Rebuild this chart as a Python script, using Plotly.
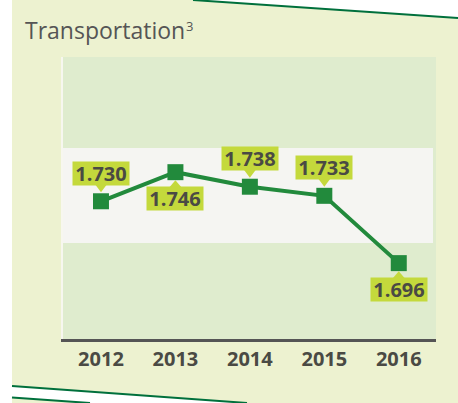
import plotly.graph_objects as go

# ---- data ----
years = [2012, 2013, 2014, 2015, 2016]
values = [1.730, 1.746, 1.738, 1.733, 1.696]
value_labels = ["1.730", "1.746", "1.738", "1.733", "1.696"]
label_side = ["above", "below", "above", "above", "below"]
title_main = "Transportation"
title_sup = "3"

# ---- layout geometry ----
W, H = 458, 403
L, R, T, B = 63, 22, 57, 64
PW, PH = W - L - R, H - T - B


def px(x):
    return (x - L) / PW


def py(y):
    return (H - B - y) / PH


PAGE = "#EDF2D0"
BAND = "#DFECCE"
MID = "#F5F5F2"
GREEN = "#228A3C"
LIME = "#C4D93C"
DARK = "#00703C"
TXT = "#4A4A44"

fig = go.Figure()
fig.add_trace(go.Scatter(
    x=years, y=values, mode="lines+markers",
    line=dict(color=GREEN, width=4),
    marker=dict(symbol="square", size=16, color=GREEN),
    hoverinfo="skip", showlegend=False,
))

shapes = []
# page background polygon (white outside the decorative edges)
shapes.append(dict(
    type="path", xref="paper", yref="paper", layer="below",
    path=(f"M {px(12)},{py(0)} L {px(193)},{py(0)} L {px(458)},{py(18)} "
          f"L {px(458)},{py(403)} L {px(247)},{py(403)} L {px(12)},{py(386)} Z"),
    fillcolor=PAGE, line=dict(width=0),
))
shapes.append(dict(
    type="path", xref="paper", yref="paper", layer="below",
    path=f"M {px(12)},{py(397.5)} L {px(90)},{py(403)} L {px(12)},{py(403)} Z",
    fillcolor=PAGE, line=dict(width=0),
))
# decorative lines
for (x0, y0, x1, y1) in [(193, 0, 458, 18), (12, 386, 247, 403), (12, 397.5, 90, 403)]:
    shapes.append(dict(type="line", xref="paper", yref="paper",
                       x0=px(x0), y0=py(y0), x1=px(x1), y1=py(y1),
                       line=dict(color=DARK, width=2), layer="above"))
# bands
shapes.append(dict(type="rect", xref="paper", yref="paper", layer="below",
                   x0=0, x1=1, y0=0, y1=1, fillcolor=BAND, line=dict(width=0)))
shapes.append(dict(type="rect", xref="paper", yref="paper", layer="below",
                   x0=0, x1=px(433), y0=py(243), y1=py(148), fillcolor=MID,
                   line=dict(width=0)))

annotations = []
for yr, v, lab, side in zip(years, values, value_labels, label_side):
    up = side == "above"
    annotations.append(dict(
        x=yr, y=v, xref="x", yref="y", text=f"<b>{lab}</b>", showarrow=False,
        yshift=28 if up else -26, bgcolor=LIME, width=54, height=21, borderpad=1,
        font=dict(family="Open Sans", size=20, color=TXT),
    ))
    if up:
        path = "M -6,17 L 6,17 L 0,9 Z"
    else:
        path = "M -6,-15 L 6,-15 L 0,-8 Z"
    shapes.append(dict(type="path", xref="x", yref="y",
                       xsizemode="pixel", ysizemode="pixel",
                       xanchor=yr, yanchor=v, path=path,
                       fillcolor=LIME, line=dict(width=0), layer="above"))

annotations.append(dict(
    x=px(23), y=py(30), xref="paper", yref="paper", xanchor="left", yanchor="middle",
    text=title_main, showarrow=False,
    font=dict(family="Open Sans", size=23, color="#555555"),
))
annotations.append(dict(
    x=px(183.5), y=py(26), xref="paper", yref="paper", xanchor="left", yanchor="middle",
    text=title_sup, showarrow=False,
    font=dict(family="Open Sans", size=13, color="#555555"),
))

fig.update_layout(
    width=W, height=H, margin=dict(l=L, r=R, t=T, b=B, autoexpand=False),
    paper_bgcolor="white", plot_bgcolor="rgba(0,0,0,0)",
    shapes=shapes, annotations=annotations,
    xaxis=dict(range=[2011.49, 2016.5], tickvals=years, ticktext=[str(y) for y in years],
               showgrid=False, zeroline=False, showline=True, linecolor="#555555",
               linewidth=2.5, ticks="",
               tickfont=dict(family="Open Sans", size=20, color=TXT, weight="bold")),
    yaxis=dict(range=[1.6543, 1.8093], showgrid=False, zeroline=False,
               showticklabels=False, showline=True, linecolor="#F7F7EF", linewidth=2,
               ticks=""),
)

fig.write_html(
    "out.html",
    config={"displayModeBar": False},
    post_script="document.body.style.margin='0';document.body.style.overflow='hidden';",
)
